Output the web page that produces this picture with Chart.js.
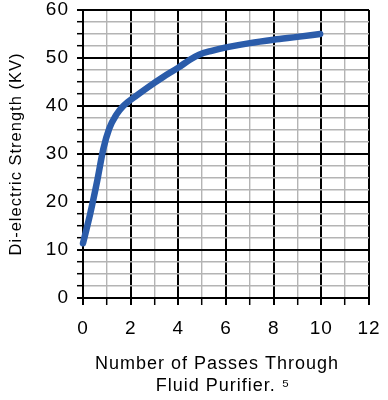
<!DOCTYPE html>
<html><head><meta charset="utf-8">
<script src="https://cdn.jsdelivr.net/npm/chart.js@4.4.1/dist/chart.umd.min.js"></script>
<style>html,body{margin:0;padding:0;background:#fff;} canvas{display:block;}</style>
</head><body>
<canvas id="c" width="388" height="400"></canvas>
<script>
const passes   = [0, 0.3, 0.6, 0.85, 1.1, 1.4, 1.69, 2.2, 2.75, 3.35, 4.0, 4.5, 4.87, 5.4, 6.0, 7.0, 8.0, 9.0, 9.95];
const strength = [11.4, 17.5, 24.5, 31, 35.3, 38.2, 40, 42, 44, 46, 48, 49.7, 50.7, 51.5, 52.2, 53.1, 53.8, 54.4, 55.0];
const xTickLabels = ['0','2','4','6','8','10','12'];
const yTickLabels = ['0','10','20','30','40','50','60'];
const xTitle = ['Number of Passes Through   ', 'Fluid Purifier. \u2075 '];
const yTitle = 'Di-electric Strength (KV)';

const FONT = "'Liberation Sans', Arial, Helvetica, sans-serif";
const points = passes.map((x, i) => ({x: x, y: strength[i]}));

const spacing = {
  id: 'spacing',
  beforeDraw(chart) { chart.ctx.letterSpacing = '1px'; }
};

new Chart(document.getElementById('c'), {
  type: 'line',
  data: { datasets: [{
    data: points,
    borderColor: '#2b5caa',
    borderWidth: 6.5,
    borderCapStyle: 'round',
    borderJoinStyle: 'round',
    pointRadius: 0,
    cubicInterpolationMode: 'monotone',
    fill: false,
    clip: 8
  }]},
  plugins: [spacing],
  options: {
    responsive: false,
    devicePixelRatio: 1,
    animation: false,
    layout: { padding: { top: 0, right: 19, bottom: 0, left: 0 } },
    plugins: { legend: { display: false }, tooltip: { enabled: false } },
    scales: {
      x: {
        type: 'linear', min: 0, max: 12,
        afterFit: s => { s.height = 102; s.paddingLeft = 0; s.paddingRight = 0; },
        ticks: {
          stepSize: 1, autoSkip: false, maxRotation: 0, minRotation: 0,
          padding: 12, color: '#000',
          font: { family: FONT, size: 19 },
          callback: v => (v % 2 === 0 ? xTickLabels[v / 2] : '')
        },
        grid: {
          color: c => (c.tick && c.tick.value % 2 === 0 ? '#000' : '#b4b4b4'),
          lineWidth: c => (c.tick && c.tick.value % 2 === 0 ? 2 : 1.4),
          tickColor: '#000',
          tickWidth: c => (c.tick && c.tick.value % 2 === 0 ? 2 : 1.5),
          tickLength: 7,
          drawTicks: true
        },
        border: { color: '#000', width: 2 },
        title: {
          display: true, text: xTitle, color: '#000',
          font: { family: FONT, size: 18, lineHeight: 1.22 },
          padding: { top: 0, bottom: 3 }
        }
      },
      y: {
        type: 'linear', min: 0, max: 60,
        afterFit: s => { s.width = 83; s.paddingTop = 10; s.paddingBottom = 0; },
        ticks: {
          stepSize: 2.5, autoSkip: false, padding: 8, color: '#000',
          font: { family: FONT, size: 19 },
          callback: v => (v % 10 === 0 ? yTickLabels[v / 10] : '')
        },
        grid: {
          color: c => (c.tick && c.tick.value % 10 === 0 ? '#000' : '#b4b4b4'),
          lineWidth: c => (c.tick && c.tick.value % 10 === 0 ? 2 : 1.4),
          tickColor: '#000',
          tickWidth: c => (c.tick && c.tick.value % 10 === 0 ? 2 : 1.5),
          tickLength: 6,
          drawTicks: true
        },
        border: { color: '#000', width: 2 },
        title: {
          display: true, text: yTitle, color: '#000',
          font: { family: FONT, size: 16.5, lineHeight: 1.2 },
          padding: { top: 7, bottom: 0 }
        }
      }
    }
  }
});
</script>
</body></html>
